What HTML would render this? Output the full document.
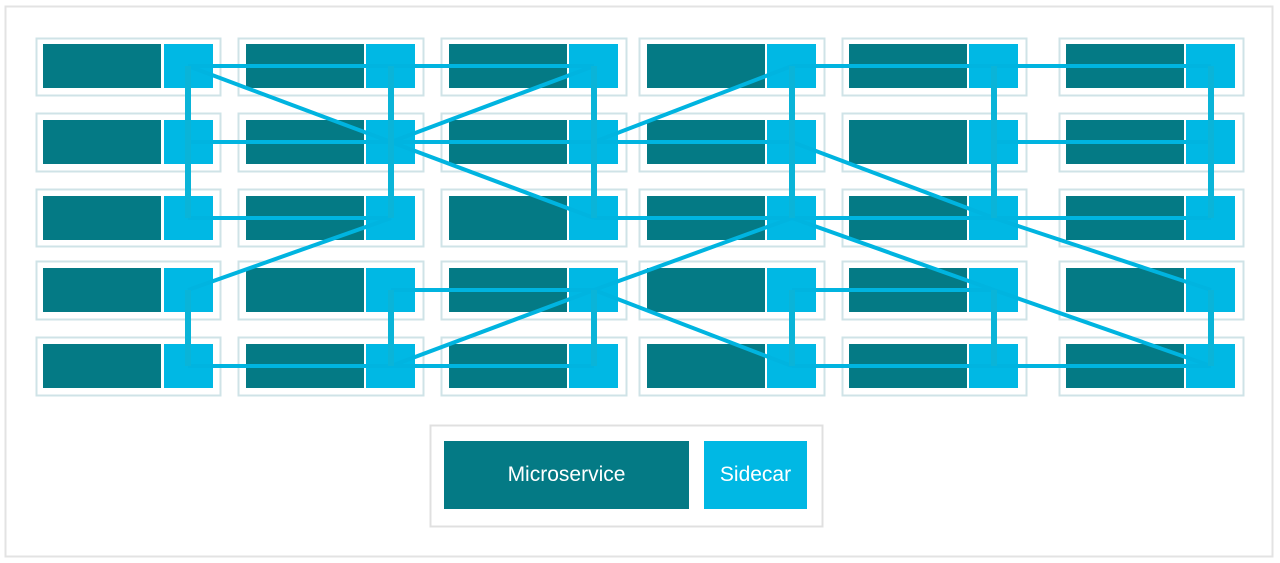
<!DOCTYPE html>
<html><head><meta charset="utf-8"><style>
html,body{margin:0;padding:0;background:#fff;}
svg{display:block;}
</style></head><body>
<svg width="1280" height="563" viewBox="0 0 1280 563" xmlns="http://www.w3.org/2000/svg">
<rect x="5.5" y="6.5" width="1267" height="550" fill="#fff" stroke="#e3e3e3" stroke-width="2"/>
<g id="cells"></g>
<g id="lines"></g>
<rect x="430.5" y="425.5" width="392" height="101" fill="#fff" stroke="#e0e0e0" stroke-width="2"/>
<rect x="444" y="441" width="245" height="68" fill="#047a85"/>
<rect x="704" y="441" width="103" height="68" fill="#00b8e4"/>
<text x="566.5" y="481" font-family="Liberation Sans, sans-serif" font-size="21" fill="#fff" text-anchor="middle">Microservice</text>
<text x="755.5" y="481" font-family="Liberation Sans, sans-serif" font-size="21" fill="#fff" text-anchor="middle">Sidecar</text>
<script>
var ns="http://www.w3.org/2000/svg";
var cols=[[36,220,43,164],[238,423,246,366],[441,626,449,569],[639,824,647,767],[842,1026,849,969],[1059,1243,1066,1186]];
var rows=[[38,95,44],[113,171,120],[189,246,196],[261,319,268],[337,395,344]];
var cg=document.getElementById('cells');
function el(p,t,a){var e=document.createElementNS(ns,t);for(var k in a)e.setAttribute(k,a[k]);p.appendChild(e);return e;}
rows.forEach(function(r){cols.forEach(function(c){
el(cg,'rect',{x:c[0]+0.5,y:r[0]+0.5,width:c[1]-c[0],height:r[1]-r[0],fill:'#fff',stroke:'#cfe3e7','stroke-width':2});
el(cg,'rect',{x:c[2],y:r[2],width:118,height:44,fill:'#047a85'});
el(cg,'rect',{x:c[3],y:r[2],width:49,height:44,fill:'#00b8e4'});
});});
var X=[188,391,594,792,994,1211],Y=[66,142,218,290,366];
var lg=document.getElementById('lines');
function L(c1,r1,c2,r2){el(lg,'line',{x1:X[c1],y1:Y[r1],x2:X[c2],y2:Y[r2],stroke:'#00b4e0','stroke-width':4});}
function V(c,r1,r2){el(lg,'line',{x1:X[c],y1:Y[r1],x2:X[c],y2:Y[r2],stroke:'#0ab4d8','stroke-width':6});}
// horizontals
L(0,0,2,0);L(3,0,5,0);
L(0,1,3,1);L(4,1,5,1);
L(0,2,1,2);L(2,2,5,2);
L(1,3,2,3);L(3,3,4,3);
L(0,4,2,4);L(3,4,5,4);
// diagonals
L(0,0,1,1);L(2,0,1,1);L(3,0,2,1);
L(1,1,2,2);L(3,1,4,2);
L(1,2,0,3);L(3,2,2,3);L(3,2,4,3);L(4,2,5,3);
L(2,3,1,4);L(2,3,3,4);L(4,3,5,4);
// verticals
[0,1,2,3,4,5].forEach(function(c){V(c,0,2);V(c,3,4);});
</script>
</svg>
</body></html>
